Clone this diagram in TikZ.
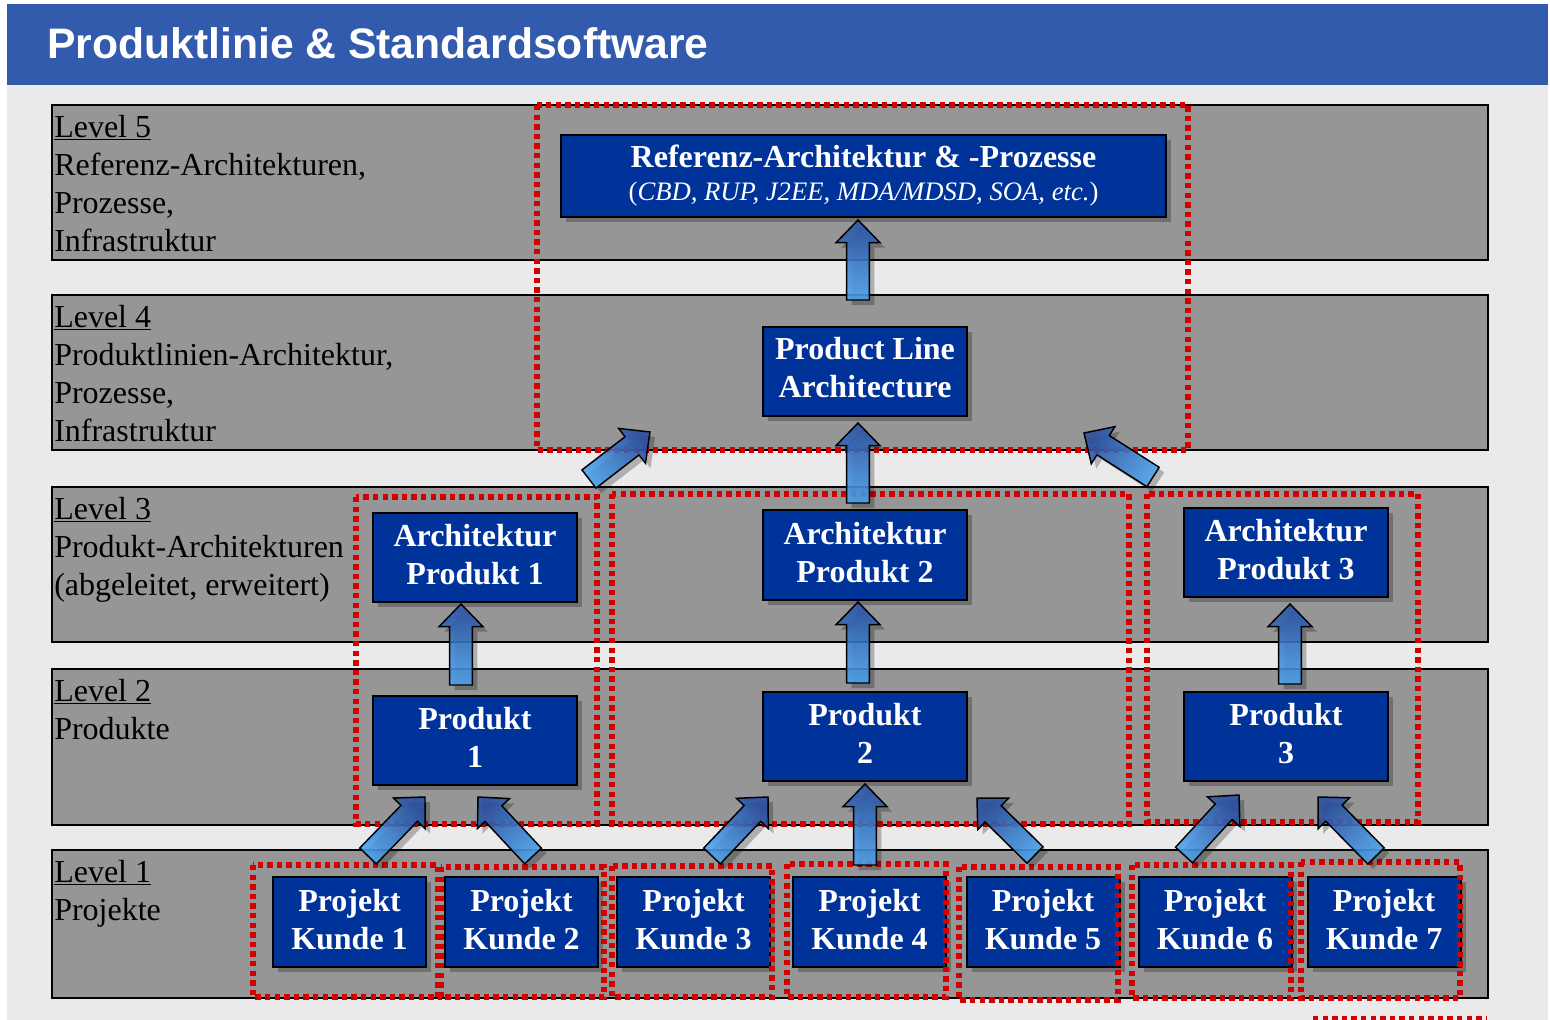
\documentclass[tikz,border=0pt]{standalone}
\usepackage{fontspec}
\setmainfont{Liberation Serif}
\newfontfamily\titlefont{Liberation Sans}
\usetikzlibrary{calc,shadows}

\definecolor{headblue}{HTML}{335BAD}
\definecolor{pagegray}{HTML}{EAEAEA}
\definecolor{bandgray}{HTML}{969696}
\definecolor{boxblue}{HTML}{003399}
\definecolor{dotred}{HTML}{D20000}
\definecolor{arrowtop}{HTML}{2950A3}
\definecolor{arrowbottom}{HTML}{4BA3EE}

% block arrow geometry
\newlength\arrshaft \setlength\arrshaft{8.6pt}
\newlength\arrhead  \setlength\arrhead{16.5pt}
\newlength\arrlen   \setlength\arrlen{17pt}

% \blockarrow{tail}{tip}{shading angle}
\newcommand\blockarrow[3]{%
  \coordinate (neck) at ($(#2)!\arrlen!(#1)$);
  \fill[black, opacity=.25, transform canvas={shift={(3.75pt,-3.75pt)}}]
    ($(#1)!\arrshaft!90:(#2)$) -- ($(neck)!\arrshaft!90:(#2)$) --
    ($(neck)!\arrhead!90:(#2)$) -- (#2) -- ($(neck)!\arrhead!-90:(#2)$) --
    ($(neck)!\arrshaft!-90:(#2)$) -- ($(#1)!\arrshaft!-90:(#2)$) -- cycle;
  \draw[line width=1.1pt, line join=miter, top color=arrowtop, bottom color=arrowbottom,
        shading angle=#3, fill opacity=.88]
    ($(#1)!\arrshaft!90:(#2)$) -- ($(neck)!\arrshaft!90:(#2)$) --
    ($(neck)!\arrhead!90:(#2)$) -- (#2) -- ($(neck)!\arrhead!-90:(#2)$) --
    ($(neck)!\arrshaft!-90:(#2)$) -- ($(#1)!\arrshaft!-90:(#2)$) -- cycle;
}

\tikzset{
  band/.style={draw=black, line width=1pt, fill=bandgray},
  blockbox/.style 2 args={draw=black, line width=1.5pt, fill=boxblue, text=white,
    minimum width=#1*0.75pt, minimum height=#2*0.75pt, inner sep=0pt, align=center,
    text depth=4.5pt,
    font=\bfseries\fontsize{24}{28.5}\selectfont,
    drop shadow={shadow xshift=3.75pt, shadow yshift=-3.75pt, fill=black, opacity=.25}},
  grp/.style={draw=dotred, line width=4.2pt, dash pattern=on 4pt off 3.2pt},
  levellabel/.style={anchor=north west, align=left, inner sep=0pt,
    font=\fontsize{24}{28.5}\selectfont},
}

\begin{document}
\begin{tikzpicture}[x=0.75pt, y=-0.75pt]
\useasboundingbox (0,0) rectangle (1550,1020);
\fill[white] (0,0) rectangle (1550,1020);
\fill[pagegray] (7,85) rectangle (1548,1020);
\fill[headblue] (7,4) rectangle (1548,85);
\node[anchor=west, inner sep=0pt, text=white, font=\titlefont\bfseries\fontsize{32}{38}\selectfont]
  (title) at (47,43) {Produktlinie \& Standardsoftware};

% level bands
\draw[band] (52,105) rectangle (1488,260);
\draw[band] (52,295) rectangle (1488,450);
\draw[band] (52,487) rectangle (1488,642);
\draw[band] (52,669) rectangle (1488,825);
\draw[band] (52,850) rectangle (1488,998);

% level descriptions
\node[levellabel] (lev5) at (54,115) {\underline{Level 5}\\Referenz-Architekturen,\\Prozesse,\\Infrastruktur};
\node[levellabel] (lev4) at (54,305) {\underline{Level 4}\\Produktlinien-Architektur,\\Prozesse,\\Infrastruktur};
\node[levellabel] (lev3) at (54,497) {\underline{Level 3}\\Produkt-Architekturen\\(abgeleitet, erweitert)};
\node[levellabel] (lev2) at (54,679) {\underline{Level 2}\\Produkte};
\node[levellabel] (lev1) at (54,860) {\underline{Level 1}\\Projekte};

% boxes
\node[blockbox={605}{82}, text depth=5pt] (ref) at (863.5,176)
  {Referenz-Architektur \& -Prozesse\\[-4pt]
   {\mdseries\fontsize{20}{24}\selectfont(\textit{CBD, RUP, J2EE, MDA/MDSD, SOA, etc.})}};
\node[blockbox={204}{89}, text depth=6pt] (pla) at (865,371.5) {Product Line\\Architecture};
\node[blockbox={204}{89}] (a1) at (475,557.5) {Architektur\\Produkt 1};
\node[blockbox={204}{90}] (a2) at (865,555) {Architektur\\Produkt 2};
\node[blockbox={204}{89}] (a3) at (1286,552.5) {Architektur\\Produkt 3};
\node[blockbox={204}{89}] (p1) at (475,740.5) {Produkt\\1};
\node[blockbox={204}{89}] (p2) at (865,736.5) {Produkt\\2};
\node[blockbox={204}{89}] (p3) at (1286,736.5) {Produkt\\3};
\node[blockbox={153}{90}] (k1) at (349.5,922) {Projekt\\Kunde 1};
\node[blockbox={153}{90}] (k2) at (521.5,922) {Projekt\\Kunde 2};
\node[blockbox={153}{90}] (k3) at (693.5,922) {Projekt\\Kunde 3};
\node[blockbox={153}{90}] (k4) at (869.5,922) {Projekt\\Kunde 4};
\node[blockbox={153}{90}] (k5) at (1043,922) {Projekt\\Kunde 5};
\node[blockbox={153}{90}] (k6) at (1215,922) {Projekt\\Kunde 6};
\node[blockbox={153}{90}] (k7) at (1384,922) {Projekt\\Kunde 7};

% dotted groupings
\draw[grp] (537,105) rectangle (1188,450);
\draw[grp] (356,497) rectangle (597,824);
\draw[grp] (612,494) rectangle (1129,824);
\draw[grp] (1147,494) rectangle (1418,822);
\draw[grp] (253,865) rectangle (438,997);
\draw[grp] (441,867) rectangle (604,997);
\draw[grp] (612,866) rectangle (772,997);
\draw[grp] (787,864) rectangle (946,997);
\draw[grp] (959,867) rectangle (1118,1000);
\draw[grp] (1132,865) rectangle (1291,998);
\draw[grp] (1301,862) rectangle (1460,998);
\draw[grp] (1313,1019) -- (1487,1019);

% arrow end points
\coordinate (pla-out) at (858,300);  \coordinate (ref-in)  at (858,220);
\coordinate (a2-out)  at (858,503);  \coordinate (pla-in2) at (858,423);
\coordinate (a1-out)  at (589,479);  \coordinate (pla-in1) at (650,432);
\coordinate (a3-out)  at (1153,477); \coordinate (pla-in3) at (1084,433);
\coordinate (p1-out)  at (461,685);  \coordinate (a1-in)   at (461,604);
\coordinate (p2-out)  at (858,683);  \coordinate (a2-in)   at (858,602);
\coordinate (p3-out)  at (1290,684); \coordinate (a3-in)   at (1290,604);
\coordinate (k1-out)  at (368,856);  \coordinate (p1-in1)  at (425,797);
\coordinate (k2-out)  at (533,856);  \coordinate (p1-in2)  at (478,797);
\coordinate (k3-out)  at (712,856);  \coordinate (p2-in1)  at (768,797);
\coordinate (k4-out)  at (865,865);  \coordinate (p2-in2)  at (865,784);
\coordinate (k5-out)  at (1035,855); \coordinate (p2-in3)  at (977,798);
\coordinate (k6-out)  at (1184,855); \coordinate (p3-in1)  at (1239,795);
\coordinate (k7-out)  at (1376,856); \coordinate (p3-in2)  at (1318,797);

% block arrows
\blockarrow{pla-out}{ref-in}{0}
\blockarrow{a2-out}{pla-in2}{0}
\blockarrow{a1-out}{pla-in1}{-53}
\blockarrow{a3-out}{pla-in3}{58}
\blockarrow{p1-out}{a1-in}{0}
\blockarrow{p2-out}{a2-in}{0}
\blockarrow{p3-out}{a3-in}{0}
\blockarrow{k1-out}{p1-in1}{-44}
\blockarrow{k2-out}{p1-in2}{43}
\blockarrow{k3-out}{p2-in1}{-43}
\blockarrow{k4-out}{p2-in2}{0}
\blockarrow{k5-out}{p2-in3}{45}
\blockarrow{k6-out}{p3-in1}{-43}
\blockarrow{k7-out}{p3-in2}{44}
\end{tikzpicture}
\end{document}
